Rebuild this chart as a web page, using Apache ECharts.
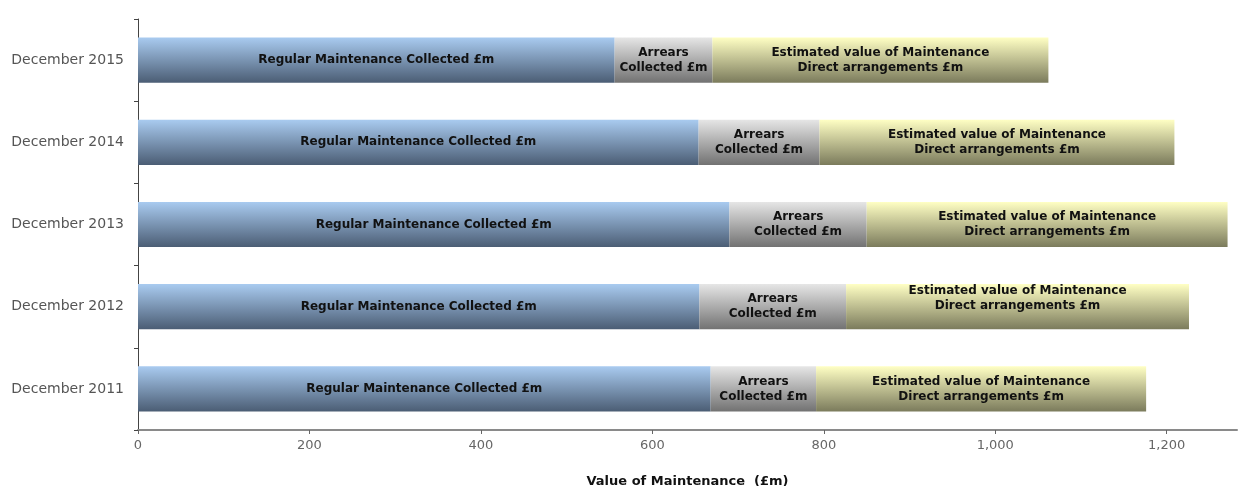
<!DOCTYPE html>
<html>
<head>
<meta charset="utf-8">
<script src="https://cdn.jsdelivr.net/npm/echarts@6/dist/echarts.min.js"></script>
<style>html,body{margin:0;padding:0;background:#fff;overflow:hidden}#c{width:1239px;height:486px}</style>
</head>
<body>
<div id="c"></div>
<script>
const categories = ['December 2011', 'December 2012', 'December 2013', 'December 2014', 'December 2015'];
const regular = [668, 655, 690, 654, 556];
const arrears = [123, 171, 160, 141, 114];
const direct = [385, 400, 421, 414, 392];
const seriesNames = ['Regular Maintenance Collected £m', 'Arrears\nCollected £m', 'Estimated value of Maintenance\nDirect arrangements £m'];
const xTicks = [0, 200, 400, 600, 800, 1000, 1200];
const axisTitle = 'Value of Maintenance  (£m)';

function grad(top, bottom) {
  return new echarts.graphic.LinearGradient(0, 0, 0, 1, [
    {offset: 0, color: top},
    {offset: 1, color: bottom}
  ]);
}
const FONT = 'DejaVu Sans, Verdana, sans-serif';
const labelStyle = {
  show: true, position: 'inside', color: '#111', fontFamily: FONT,
  fontWeight: 'bold', fontSize: 12, lineHeight: 15,
  formatter: p => p.seriesName
};
const colors = [grad('#a9cbf0', '#4b5d74'), grad('#e6e6e6', '#727272'), grad('#ffffc4', '#7b7b5c')];
const data = [regular, arrears, direct];

const chart = echarts.init(document.getElementById('c'), null, {renderer: 'canvas'});
chart.setOption({
  animation: false,
  grid: {left: 138, right: 2, top: 19, bottom: 56, containLabel: false, outerBoundsMode: 'none'},
  xAxis: {
    type: 'value', min: 0, max: 1282, interval: 200,
    name: axisTitle, nameLocation: 'middle', nameGap: 45,
    nameTextStyle: {color: '#111', fontWeight: 'bold', fontSize: 13, fontFamily: FONT},
    axisLine: {show: true, lineStyle: {color: '#8a8a8a', width: 2}},
    axisTick: {show: true, length: 4, lineStyle: {color: '#666'}, customValues: xTicks},
    axisLabel: {color: '#666', fontSize: 13, margin: 9, fontFamily: FONT,
      customValues: xTicks, formatter: v => v.toLocaleString('en-GB')},
    splitLine: {show: false}
  },
  yAxis: {
    type: 'category', data: categories,
    axisLine: {show: true, lineStyle: {color: '#444', width: 1}},
    axisTick: {show: true, length: 4, lineStyle: {color: '#444'}},
    axisLabel: {color: '#555', fontSize: 14, margin: 14, fontFamily: FONT}
  },
  series: seriesNames.map((n, i) => ({
    name: n, type: 'bar', stack: 'total', barCategoryGap: '45%',
    data: data[i].map((v, j) => (i === 2 && j === 1) ? {value: v, label: {offset: [0, -8]}} : v),
    itemStyle: {color: colors[i]},
    label: labelStyle
  }))
});
</script>
</body>
</html>
